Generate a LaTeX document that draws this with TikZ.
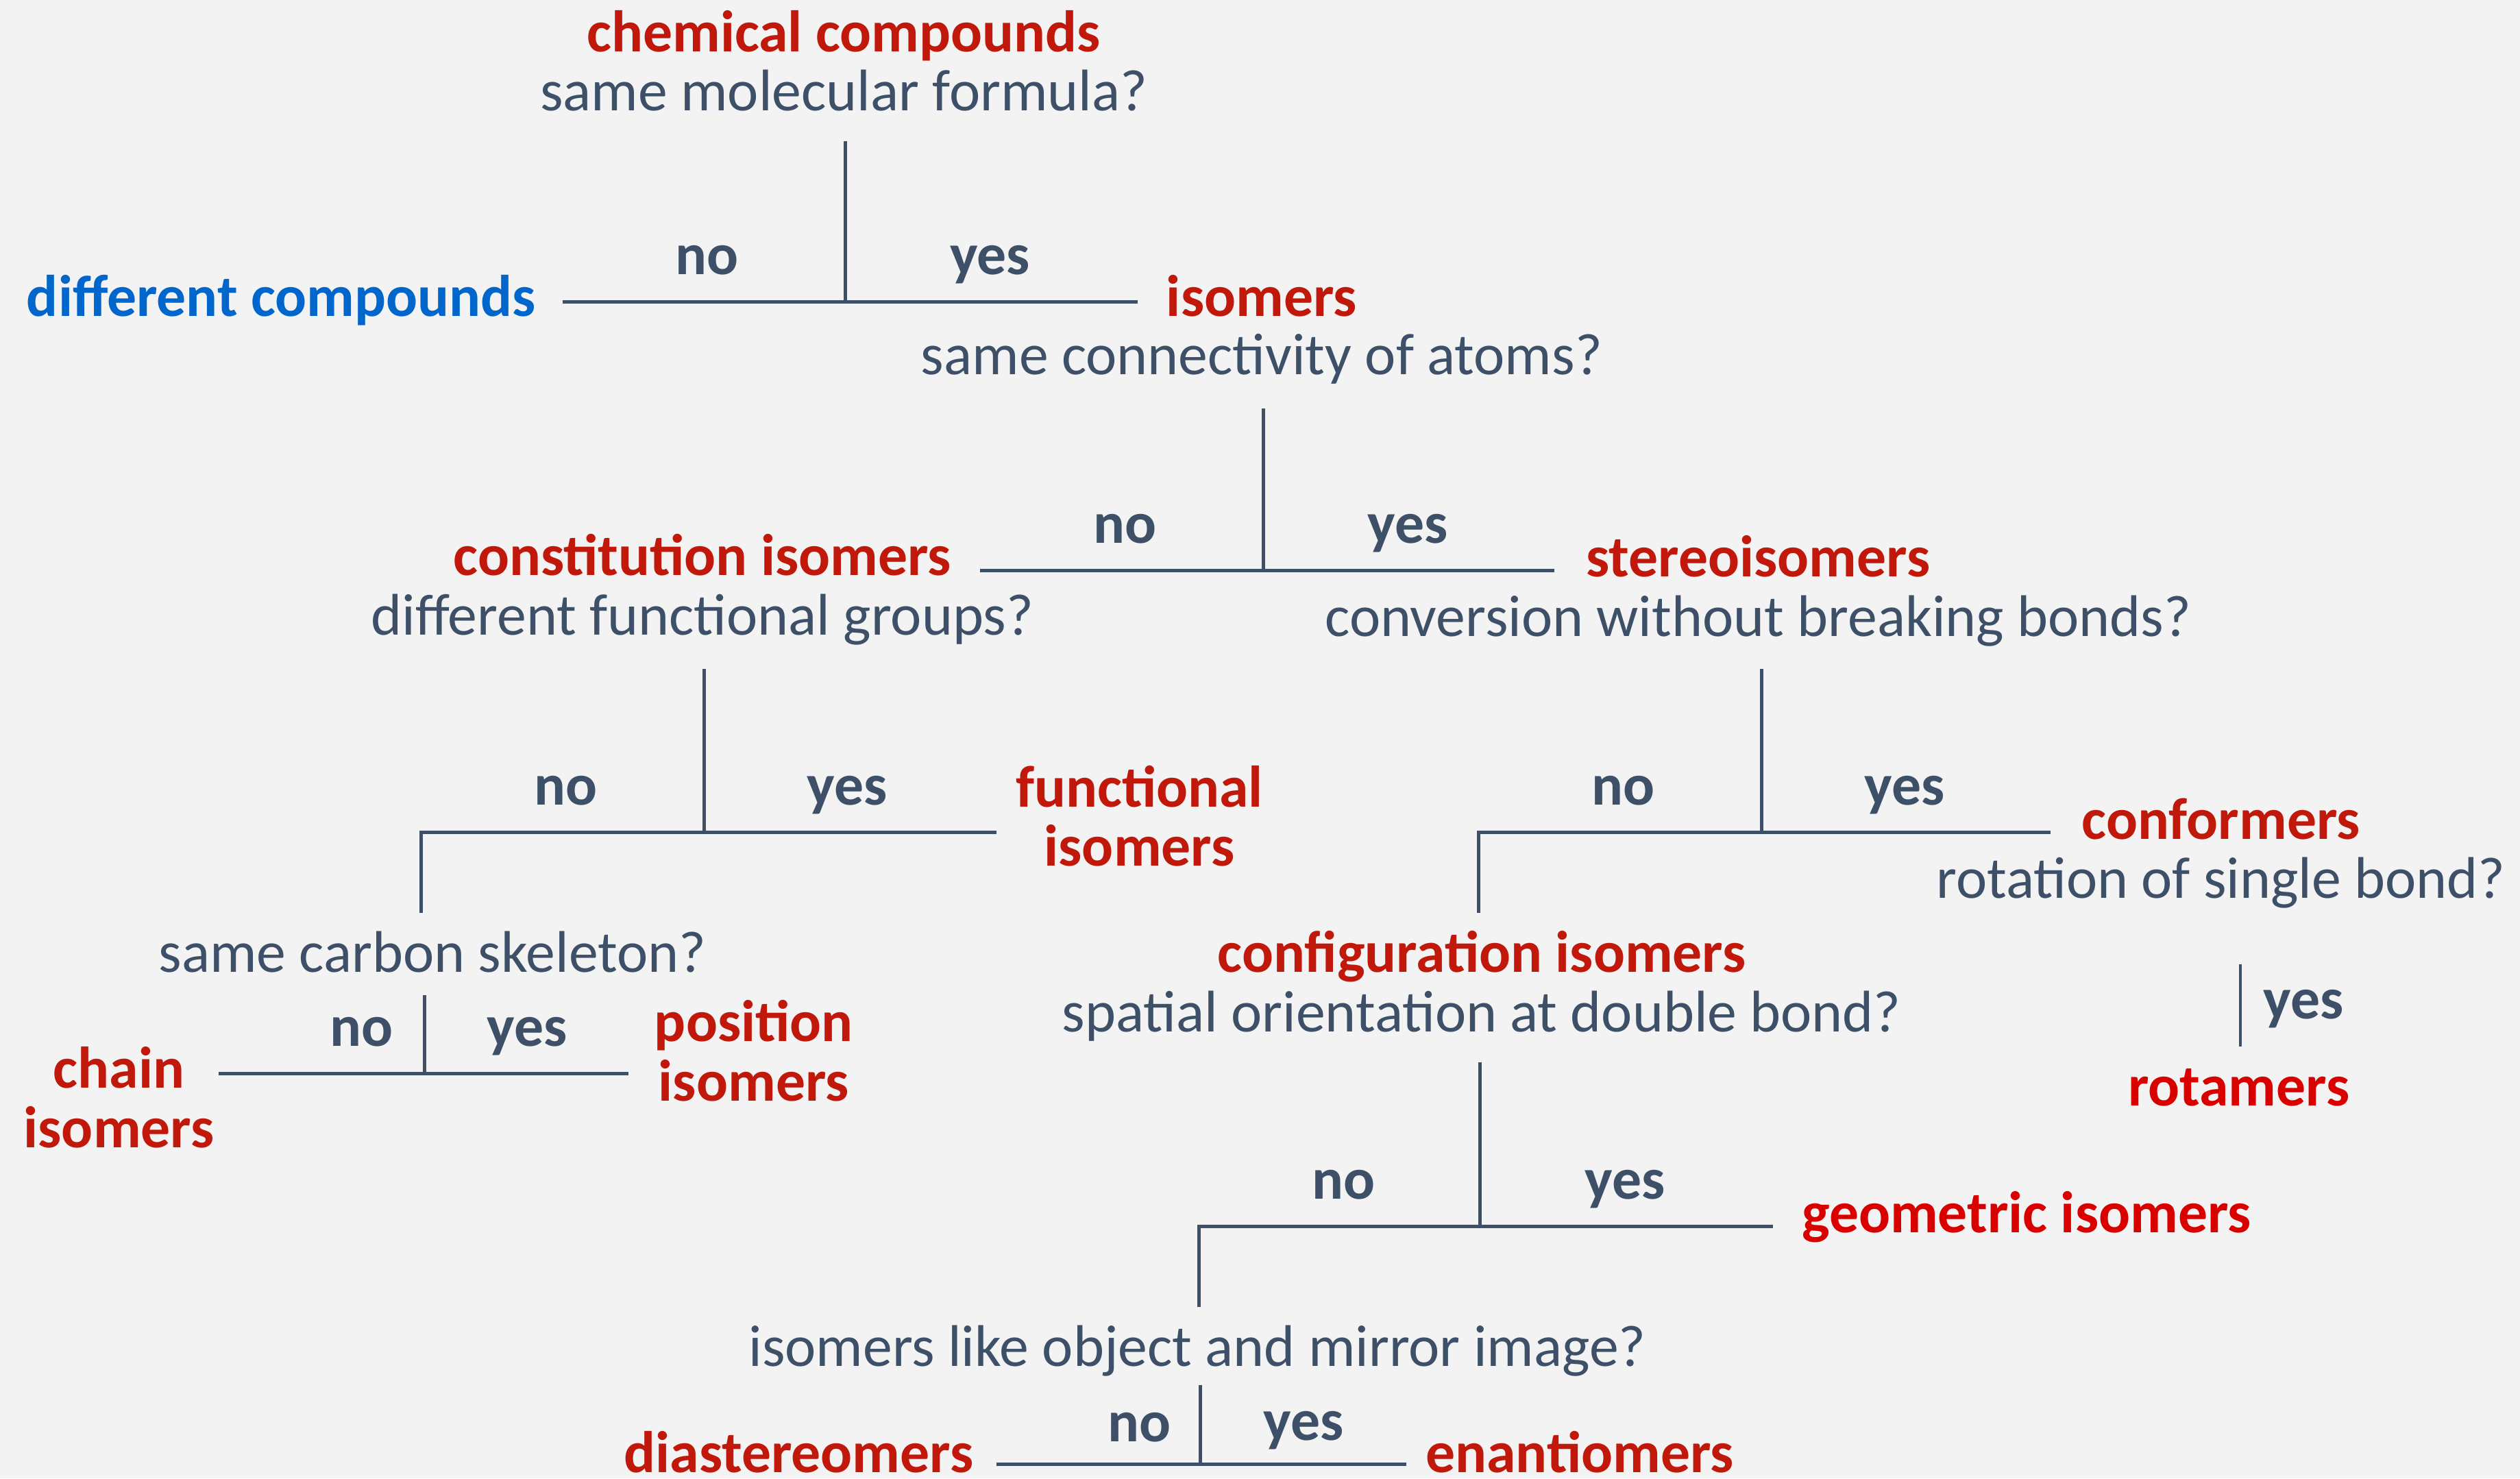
\documentclass[tikz,border=0pt]{standalone}
\usepackage{fontspec}
\setmainfont{Carlito}
\definecolor{txtgray}{HTML}{3D5068}
\definecolor{hdred}{HTML}{C0190B}
\definecolor{brightred}{HTML}{D90000}
\definecolor{diffblue}{HTML}{0066CC}
\definecolor{bggray}{HTML}{F3F3F3}
\newcommand\chartfont{\fontsize{26}{26.3}\selectfont}
\tikzset{
  question/.style={text=txtgray,anchor=base,font=\chartfont},
  class/.style={text=hdred,anchor=base,align=center,font=\chartfont\bfseries},
  answer/.style={text=txtgray,anchor=base,font=\chartfont\bfseries},
  branch/.style={draw=txtgray,line width=1.5pt},
}
\begin{document}
\begin{tikzpicture}[x=0.025cm,y=-0.025cm,every node/.style={inner sep=0pt}]
  \fill[bggray] (0,0) rectangle (1568,920);
  \useasboundingbox (0,0) rectangle (1568,920);
  % same molecular formula
  \node[class] (chem) at (525,32) {chemical compounds};
  \node[question] (formula) at (525,69) {same molecular formula?};
  \coordinate (t1) at (526,88); \coordinate (j1) at (526,188);
  \coordinate (l1) at (350,188); \coordinate (r1) at (708,188);
  \node[answer] (no1) at (440,171) {no};
  \node[answer] (yes1) at (616,171) {yes};
  \node[class,text=diffblue] (diff) at (175,197) {different compounds};
  \node[class] (iso) at (785,197) {isomers};
  \node[question] (connect) at (785,233) {same connectivity of atoms?};
  \draw[branch] (t1) -- (j1) (l1) -- (r1);
  % same connectivity
  \coordinate (t2) at (786,254); \coordinate (j2) at (786,355);
  \coordinate (l2) at (610,355); \coordinate (r2) at (967,355);
  \node[answer] (no2) at (700,338) {no};
  \node[answer] (yes2) at (876,338) {yes};
  \node[class] (const) at (437,358) {constitution isomers};
  \node[question] (groups) at (437,395) {different functional groups?};
  \node[class] (stereo) at (1094,359) {stereoisomers};
  \node[question] (breaking) at (1094,396) {conversion without breaking bonds?};
  \draw[branch] (t2) -- (j2) (l2) -- (r2);
  % functional groups
  \coordinate (t3) at (438,416); \coordinate (j3) at (438,518);
  \coordinate (l3) at (262,518); \coordinate (r3) at (620,518);
  \coordinate (d3) at (262,568);
  \node[answer] (no3) at (352,501) {no};
  \node[answer] (yes3) at (527,501) {yes};
  \node[class] (func) at (709,539) {functional\\isomers};
  \node[question] (skeleton) at (269,605) {same carbon skeleton?};
  \draw[branch] (t3) -- (j3) (d3) -- (l3) -- (r3);
  % carbon skeleton
  \coordinate (t4) at (264,619); \coordinate (j4) at (264,668);
  \coordinate (l4) at (136,668); \coordinate (r4) at (391,668);
  \node[answer] (no4) at (225,651) {no};
  \node[answer] (yes4) at (328,651) {yes};
  \node[class] (chain) at (74,714) {chain\\isomers};
  \node[class] (position) at (469,685) {position\\isomers};
  \draw[branch] (t4) -- (j4) (l4) -- (r4);
  % breaking bonds
  \coordinate (t5) at (1096,416); \coordinate (j5) at (1096,518);
  \coordinate (l5) at (920,518); \coordinate (r5) at (1276,518);
  \coordinate (d5) at (920,568);
  \node[answer] (no5) at (1010,501) {no};
  \node[answer] (yes5) at (1185,501) {yes};
  \node[class] (conf) at (1382,522) {conformers};
  \node[question] (rotation) at (1382,559) {rotation of single bond?};
  \node[class] (config) at (922,605) {configuration isomers};
  \node[question] (double) at (922,642) {spatial orientation at double bond?};
  \draw[branch] (t5) -- (j5) (d5) -- (l5) -- (r5);
  % single bond
  \coordinate (t6) at (1394,600); \coordinate (b6) at (1394,651);
  \node[answer,anchor=base west] (yes6) at (1408,634) {yes};
  \node[class,text=brightred] (rot) at (1393,688) {rotamers};
  \draw[branch] (t6) -- (b6);
  % double bond
  \coordinate (t7) at (921,661); \coordinate (j7) at (921,763);
  \coordinate (l7) at (746,763); \coordinate (r7) at (1103,763);
  \coordinate (d7) at (746,813);
  \node[answer] (no7) at (836,746) {no};
  \node[answer] (yes7) at (1011,746) {yes};
  \node[class,text=brightred] (geo) at (1261,767) {geometric isomers};
  \node[question] (mirror) at (745,850) {isomers like object and mirror image?};
  \draw[branch] (t7) -- (j7) (d7) -- (l7) -- (r7);
  % mirror image
  \coordinate (t8) at (747,862); \coordinate (j8) at (747,911);
  \coordinate (l8) at (620,911); \coordinate (r8) at (875,911);
  \node[answer] (no8) at (709,897) {no};
  \node[answer] (yes8) at (811,896) {yes};
  \node[class] (dia) at (497,916) {diastereomers};
  \node[class] (enan) at (983,916) {enantiomers};
  \draw[branch] (t8) -- (j8) (l8) -- (r8);
\end{tikzpicture}
\end{document}
